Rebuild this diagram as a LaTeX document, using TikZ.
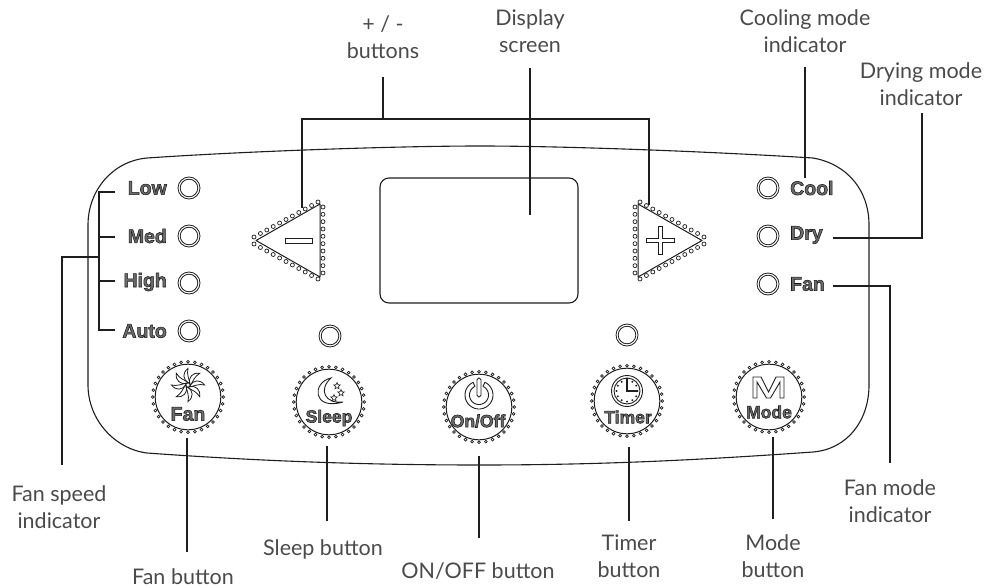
\documentclass[tikz,border=0pt]{standalone}
\usepackage{fontspec}
\usetikzlibrary{shapes.geometric}
\setmainfont{Lato}
\newfontfamily\btnfont{Liberation Sans}[BoldFont={Liberation Sans Bold}]
\definecolor{ink}{HTML}{1E1E1E}
\definecolor{labelgray}{HTML}{4A4A4A}
\newcommand{\outl}[1]{\special{pdf:code q 0.1 G 0.42 g 2 Tr 0.55 w}#1\special{pdf:code Q}}
\tikzset{
  panel/.style={draw=ink,line width=1.1pt},
  conn/.style={draw=ink,line width=1.7pt},
  lbl/.style={text=labelgray,font=\fontsize{21.5}{27}\selectfont,align=center,inner sep=0pt},
  sidetxt/.style={font=\btnfont\bfseries\fontsize{19.5}{20}\selectfont,inner sep=0pt},
  captxt/.style={font=\btnfont\bfseries\fontsize{17.5}{18}\selectfont,inner sep=0pt},
  led/.style={draw=ink,line width=.8pt},
  icon/.style={draw=ink,line width=.9pt},
  dotmark/.style={draw=ink,line width=.7pt,fill=white},
  tinystar/.style={draw=ink,line width=.6pt,star,star points=5,star point ratio=2.2,minimum size=7pt,inner sep=0pt},
}
\newcommand{\ledat}[2]{\draw[led] (#1,#2) circle[radius=11pt] (#1,#2) circle[radius=8.8pt];}
\newcommand{\roundbtn}[2]{%
  \draw[icon,line width=1pt] (#1,#2) circle[radius=32.8pt];
  \foreach \a in {0,11.25,...,349} {\draw[dotmark] ({#1+35.3*cos(\a)},{#2+35.3*sin(\a)}) circle[radius=1.4pt];}
}
\newcommand{\tribtn}{%
  \draw[icon,line width=1pt,line join=round] (256,240.5) -- (320,204) -- (320,277) -- cycle;
  \foreach \t in {0,...,10} {\draw[dotmark] ({254+6.4*\t},{237-3.5*\t}) circle[radius=2pt];}
  \foreach \t in {0,...,10} {\draw[dotmark] ({254+6.4*\t},{244+3.5*\t}) circle[radius=2pt];}
  \foreach \t in {0,...,9} {\draw[dotmark] (323,{207+7.33*\t}) circle[radius=2pt];}
}
\begin{document}
\begin{tikzpicture}[x=1pt,y=-1pt]
\useasboundingbox (0,0) rectangle (995,588);
% panel
\draw[panel] (147,158) .. controls (250,151) and (400,146) .. (480,146)
  .. controls (560,146) and (700,151) .. (813,158)
  .. controls (847,164) and (869,190) .. (869,225) -- (869,385)
  .. controls (869,420) and (848,449) .. (813,452)
  .. controls (700,460) and (600,465) .. (480,465)
  .. controls (340,465) and (230,459) .. (147,453)
  .. controls (115,449) and (88,420) .. (88,385) -- (88,225)
  .. controls (88,190) and (113,161) .. (147,158) -- cycle;
% screen
\draw[panel,rounded corners=9pt] (380,178) rectangle (578,303);
% triangle buttons
\tribtn
\draw[icon] (285,238) rectangle (312,243);
\begin{scope}[xshift=958pt,xscale=-1]\tribtn\end{scope}
\draw[icon,line join=miter] (658,226) -- (662,226) -- (662,238) -- (674,238) -- (674,242) -- (662,242) -- (662,254) -- (658,254) -- (658,242) -- (646,242) -- (646,238) -- (658,238) -- cycle;
% indicators
\ledat{189}{188}\ledat{189}{236}\ledat{189}{283}\ledat{189}{331}
\ledat{768}{188}\ledat{768}{236}\ledat{768}{284}
\ledat{330}{336}\ledat{627}{335}
\node[sidetxt,anchor=east] (low) at (167,188) {\outl{Low}};
\node[sidetxt,anchor=east] (med) at (167,236) {\outl{Med}};
\node[sidetxt,anchor=east] (high) at (167,282) {\outl{High}};
\node[sidetxt,anchor=east] (auto) at (167,331) {\outl{Auto}};
\node[sidetxt,anchor=west] (cool) at (790,188) {\outl{Cool}};
\node[sidetxt,anchor=west] (dry) at (790,235) {\outl{Dry}};
\node[sidetxt,anchor=west] (fanm) at (790,284) {\outl{Fan}};
% round buttons
\roundbtn{188}{397}\roundbtn{329}{402}\roundbtn{479}{407}\roundbtn{627}{401}\roundbtn{769}{397}
\node[sidetxt] (fancap) at (188,414) {\outl{Fan}};
\node[captxt] (sleepcap) at (329,418) {\outl{Sleep}};
\node[captxt] (oncap) at (478,421) {\outl{On/Off}};
\node[captxt] (timercap) at (628,417) {\outl{Timer}};
\node[captxt] (modecap) at (769,412) {\outl{Mode}};
% fan icon
\foreach \r in {0,45,...,315} {
  \begin{scope}[shift={(188,385)},rotate=\r]
    \draw[icon,line width=.8pt] (0,-2) .. controls (-5,-6) and (-6,-12) .. (0,-16.5) .. controls (-1.5,-11) and (1,-6) .. (2,-1.5) -- cycle;
  \end{scope}
}
% moon
\draw[icon] (331,378) .. controls (312,382) and (312,411) .. (343,402) .. controls (325,404) and (318,390) .. (331,378) -- cycle;
\node[tinystar] (s1) at (337,386) {};
\node[tinystar] (s2) at (341,393) {};
\node[tinystar] (s3) at (334,398) {};
% clock
\draw[icon] (627,391) circle[radius=15.5pt] (627,391) circle[radius=13pt];
\foreach \a in {0,30,...,330} {\fill[ink] ({627+10.6*cos(\a)},{391+10.6*sin(\a)}) circle[radius=1.1pt];}
\draw[ink,line width=1.6pt] (627,378) -- (627,391) -- (638,391);
% power
\draw[icon,line join=round] plot[domain=-65:245,samples=40] ({479+14*cos(\x)},{395+14*sin(\x)})
  -- plot[domain=245:-65,samples=40] ({479+9.5*cos(\x)},{395+9.5*sin(\x)}) -- cycle;
\draw[icon,rounded corners=1.8pt] (477,378) rectangle (481,397);
% mode icon
\draw[icon,line join=miter] (753,377) -- (761,377) -- (768.5,392) -- (776,377) -- (784,377) -- (784,398) -- (780,398) -- (780,382) -- (770.5,398) -- (766.5,398) -- (757,382) -- (757,398) -- (753,398) -- cycle;
% labels
\node[lbl] (lplus) at (383,37) {+ / -\\buttons};
\node[lbl] (ldisp) at (530,31) {Display\\screen};
\node[lbl] (lcool) at (805,31) {Cooling mode\\indicator};
\node[lbl] (ldry) at (921,84) {Drying mode\\indicator};
\node[lbl] (lfansp) at (59,507) {Fan speed\\indicator};
\node[lbl] (lfanb) at (183,577) {Fan button};
\node[lbl] (lsleep) at (323,549) {Sleep button};
\node[lbl] (lon) at (478,571) {ON/OFF button};
\node[lbl] (ltimer) at (629,556) {Timer\\button};
\node[lbl] (lmode) at (773,556) {Mode\\button};
\node[lbl] (lfanm) at (890,501) {Fan mode\\indicator};
% connector ends
\coordinate (c1) at (383,77); \coordinate (c2) at (383,119);
\coordinate (c3) at (302,119); \coordinate (c4) at (302,208);
\coordinate (c5) at (649,119); \coordinate (c6) at (649,205);
\coordinate (d1) at (530,68); \coordinate (d2) at (530,215);
\coordinate (e1) at (805,67); \coordinate (e2) at (805,178);
\coordinate (f1) at (922,113); \coordinate (f2) at (922,238); \coordinate (f3) at (833,238);
\coordinate (g1) at (833,286); \coordinate (g2) at (890,286); \coordinate (g3) at (890,463);
\coordinate (h1) at (115,192); \coordinate (h2) at (99,192); \coordinate (h3) at (99,330); \coordinate (h4) at (115,330);
\coordinate (h5) at (115,237); \coordinate (h6) at (99,237);
\coordinate (h7) at (115,281); \coordinate (h8) at (99,281);
\coordinate (h9) at (99,257); \coordinate (h10) at (62,257); \coordinate (h11) at (62,465);
\coordinate (b1a) at (187,438); \coordinate (b1b) at (187,552);
\coordinate (b2a) at (327,446); \coordinate (b2b) at (327,521);
\coordinate (b3a) at (479,456); \coordinate (b3b) at (479,538);
\coordinate (b4a) at (629,447); \coordinate (b4b) at (629,521);
\coordinate (b5a) at (773,437); \coordinate (b5b) at (773,519);
\draw[conn] (c1) -- (c2);
\draw[conn] (c4) -- (c3) -- (c5) -- (c6);
\draw[conn] (d1) -- (d2);
\draw[conn] (e1) -- (e2);
\draw[conn] (f1) -- (f2) -- (f3);
\draw[conn] (g1) -- (g2) -- (g3);
\draw[conn] (h1) -- (h2) -- (h3) -- (h4);
\draw[conn] (h5) -- (h6);
\draw[conn] (h7) -- (h8);
\draw[conn] (h9) -- (h10) -- (h11);
\draw[conn] (b1a) -- (b1b);
\draw[conn] (b2a) -- (b2b);
\draw[conn] (b3a) -- (b3b);
\draw[conn] (b4a) -- (b4b);
\draw[conn] (b5a) -- (b5b);
\end{tikzpicture}
\end{document}
